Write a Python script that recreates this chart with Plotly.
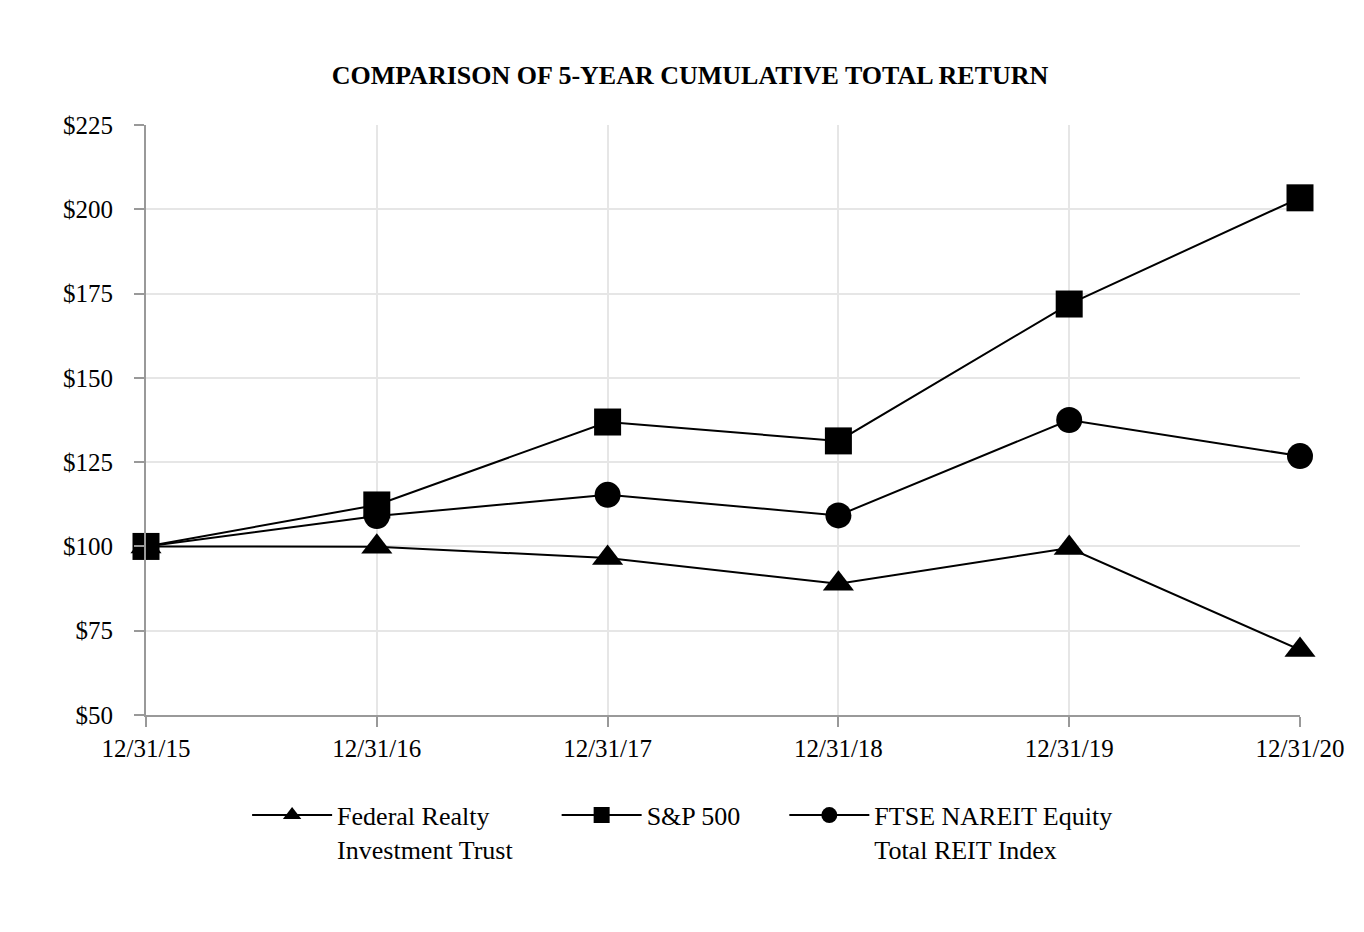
import plotly.graph_objects as go

dates = ["12/31/15", "12/31/16", "12/31/17", "12/31/18", "12/31/19", "12/31/20"]
frt = [100, 99.9, 96.6, 88.9, 99.5, 69.3]
sp500 = [100, 112.3, 136.9, 131.3, 171.9, 203.4]
nareit = [100, 109.0, 115.3, 109.2, 137.5, 126.8]

PAD = "&nbsp;" * 6
# (legend name, values, symbol, size, legend rank) -- drawn in this order
series = [
    ("Federal Realty<br>Investment Trust" + PAD, frt, "triangle-up", 27, 1),
    ("FTSE NAREIT Equity<br>Total REIT Index", nareit, "circle", 26, 3),
    ("S&P 500" + PAD, sp500, "square", 27, 2),
]

FONT = "Liberation Serif, Times New Roman, serif"
xs = list(range(len(dates)))

fig = go.Figure()
for name, vals, sym, sz, rank in series:
    fig.add_trace(go.Scatter(
        x=xs, y=vals, name=name, mode="lines+markers",
        line=dict(color="black", width=2),
        marker=dict(symbol=sym, size=sz, color="black"),
        cliponaxis=False, legendrank=rank,
    ))

fig.update_layout(
    width=1364, height=932,
    paper_bgcolor="white", plot_bgcolor="white",
    margin=dict(l=138, r=72, t=117, b=225),
    font=dict(family=FONT, size=25, color="black"),
    title=dict(text="<b>COMPARISON OF 5-YEAR CUMULATIVE TOTAL RETURN</b>",
               x=0.5, xanchor="center", y=1 - 67 / 932, yanchor="middle",
               font=dict(family=FONT, size=26, color="black")),
    showlegend=True,
    legend=dict(orientation="h", x=0.465, xanchor="center", y=-0.13, yanchor="top",
                valign="top", font=dict(family=FONT, size=26, color="black"),
                itemwidth=80, tracegroupgap=0),
)
fig.update_xaxes(
    range=[0, 5], tickvals=xs, ticktext=dates,
    showline=True, linecolor="#999999", linewidth=2,
    ticks="outside", ticklen=10, tickcolor="#999999", tickwidth=2,
    showgrid=True, gridcolor="#e6e6e6", gridwidth=2, zeroline=False,
    tickfont=dict(family=FONT, size=25),
)
fig.update_yaxes(
    range=[50, 225], dtick=25, tick0=50, tickprefix="$",
    showline=True, linecolor="#999999", linewidth=2,
    ticks="outside", ticklen=10, tickcolor="#999999", tickwidth=2,
    showgrid=True, gridcolor="#e6e6e6", gridwidth=2, zeroline=False,
    tickfont=dict(family=FONT, size=25), ticklabelstandoff=16,
)

fig.write_html("out.html")
